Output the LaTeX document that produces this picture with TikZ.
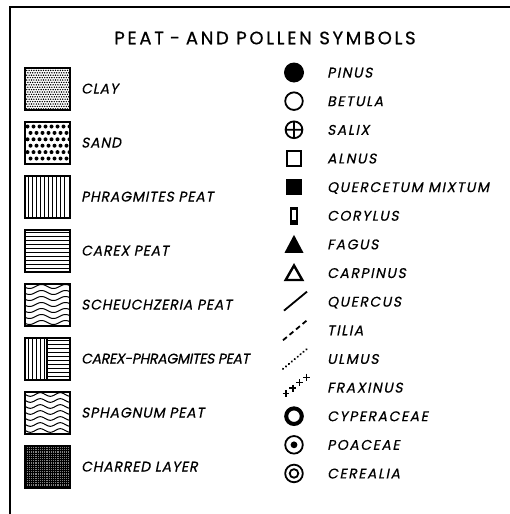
\documentclass[tikz,border=0pt]{standalone}
\usepackage{fontspec}
\setmainfont{Poppins}[LetterSpace=15,FakeBold=0.6]
\newfontfamily\labfont{Poppins}[FakeSlant=0.2,FakeBold=0.45,LetterSpace=11]
\newfontfamily\peatfont{Poppins}[FakeSlant=0.2,FakeBold=0.45,LetterSpace=6]
\newfontfamily\narrowfont{Poppins}[FakeSlant=0.2,FakeBold=0.45,LetterSpace=-2]
\usetikzlibrary{positioning}
\tikzset{
  swatch/.style={draw,line width=2pt,minimum width=45pt,minimum height=42pt,inner sep=0pt},
  lab/.style={font=\labfont\fontsize{14}{16}\selectfont,text height=10pt,text depth=0pt,inner sep=0pt,anchor=west},
  peatlab/.style={lab,font=\peatfont\fontsize{14}{16}\selectfont},
  % peat fills, drawn inside a 45x42 box
  pics/clay/.style={code={
    \clip (-22.5,-21) rectangle (22.5,21);
    \foreach \r in {0,...,17} \foreach \c in {0,...,19}
      \fill ({-22+\c*2.4+mod(\r,2)*1.2},{-20.5+\r*2.4}) circle (0.8);
  }},
  pics/sand/.style={code={
    \clip (-22.5,-21) rectangle (22.5,21);
    \foreach \r in {0,...,5} \foreach \c in {0,...,7}
      \fill ({-20+\c*6+mod(\r,2)*3},{-16+\r*6.4}) circle (2);
  }},
  pics/phrag/.style={code={
    \foreach \x in {-19,-15,...,19} \draw[line width=0.9pt] (\x,-21) -- (\x,21);
  }},
  pics/carex/.style={code={
    \foreach \y in {-18,-14,...,18} \draw[line width=0.9pt] (-22.5,\y) -- (22.5,\y);
  }},
  pics/scheu/.style={code={
    \clip (-22.5,-21) rectangle (22.5,21);
    \foreach \k in {0,...,6}
      \draw[line width=1pt] plot[variable=\t,domain=-23:23,samples=40,smooth] (\t,{-18+\k*6+2*sin(\t*15)});
  }},
  pics/carphrag/.style={code={
    \foreach \x in {-19,-15,...,-3} \draw[line width=0.9pt] (\x,-21) -- (\x,21);
    \draw[line width=1.2pt] (-0.5,-21) -- (-0.5,21);
    \foreach \y in {-18,-14,...,18} \draw[line width=0.9pt] (-0.5,\y) -- (22.5,\y);
  }},
  pics/sphag/.style={code={
    \clip (-22.5,-21) rectangle (22.5,21);
    \foreach \k in {0,...,6}
      \draw[line width=1pt] plot[variable=\t,domain=-23:23,samples=40,smooth] (\t,{-18+\k*6+1.8*sin(\t*18+40)});
  }},
  pics/charred/.style={code={
    \fill[black!50] (-22.5,-21) rectangle (22.5,21);
    \foreach \x in {-21.5,-19.3,...,22} \draw[line width=1pt] (\x,-21) -- (\x,21);
    \foreach \y in {-20,-17.8,...,21} \draw[line width=1pt] (-22.5,\y) -- (22.5,\y);
  }},
  % pollen marks
  pics/pinus/.style={code={\fill (0,0) circle (10);}},
  pics/betula/.style={code={\draw[line width=1.8pt] (0,0) circle (8.8);}},
  pics/salix/.style={code={\draw[line width=1.8pt] (0,0) circle (8.4) (-8.4,0) -- (8.4,0) (0,-8.4) -- (0,8.4);}},
  pics/alnus/.style={code={\draw[line width=1.8pt] (-7.3,-7.3) rectangle (7.3,7.3);}},
  pics/querc/.style={code={\fill (-8.2,-8.2) rectangle (8.2,8.2);}},
  pics/corylus/.style={code={
    \fill (-4.2,-9) rectangle (4.2,9);
    \fill[white] (-1.6,-5.5) rectangle (1.6,4.5);
  }},
  pics/fagus/.style={code={\fill (0,-9.5) -- (9.5,8.5) -- (-9.5,8.5) -- cycle;}},
  pics/carpinus/.style={code={\draw[line width=2.4pt,line join=miter] (0,-7.5) -- (8.3,7) -- (-8.3,7) -- cycle;}},
  pics/quercus/.style={code={\draw[line width=1.8pt] (-10,9) -- (13,-10);}},
  pics/tilia/.style={code={\draw[line width=1.8pt,dash pattern=on 5pt off 3.5pt] (-11,10) -- (13,-10);}},
  pics/ulmus/.style={code={\draw[line width=2.2pt,line cap=round,dash pattern=on 0.2pt off 3.6pt] (-11,10) -- (13,-10);}},
  pics/fraxinus/.style={code={
    \foreach \s in {0,1,2,3}
      \draw[line width=1.5pt,shift={(-8+\s*6.8,6-\s*5.4)}] (-3.4,0) -- (3.4,0) (0,-3.6) -- (0,3.6);
  }},
  pics/cyper/.style={code={\draw[line width=4pt] (0,0) circle (7.8);}},
  pics/poac/.style={code={\draw[line width=1.8pt] (0,0) circle (8.8); \fill (0,0) circle (3.4);}},
  pics/cereal/.style={code={\draw[line width=1.8pt] (0,0) circle (8.8) (0,0) circle (4.3);}},
}

\begin{document}
\begin{tikzpicture}[x=1pt,y=-1pt]
  \useasboundingbox (0,0) rectangle (510,514);
  \draw[line width=2.2pt] (10,514) -- (10,7) -- (510,7);
  \node[font=\fontsize{18}{20}\selectfont,inner sep=0pt] (title) at (265,38) {PEAT\,\,-\,\,AND POLLEN SYMBOLS};
  % peat column
  \foreach \p/\t [count=\i from 0] in {clay/CLAY,sand/SAND,phrag/PHRAGMITES PEAT,carex/CAREX PEAT,scheu/SCHEUCHZERIA PEAT,carphrag/{\narrowfont CAREX-PHRAGMITES PEAT},sphag/SPHAGNUM PEAT,charred/CHARRED LAYER}{
    \pic at (47.5,{88.5+54*\i}) {\p};
    \node[swatch] (s\i) at (47.5,{88.5+54*\i}) {};
    \node[peatlab,right=10pt of s\i] (l\i) {\t};
  }
  % pollen column
  \foreach \p/\t [count=\i from 0] in {pinus/PINUS,betula/BETULA,salix/SALIX,alnus/ALNUS,querc/QUERCETUM MIXTUM,corylus/CORYLUS,fagus/FAGUS,carpinus/CARPINUS,quercus/QUERCUS,tilia/TILIA,ulmus/ULMUS,fraxinus/FRAXINUS,cyper/CYPERACEAE,poac/POACEAE,cereal/CEREALIA}{
    \coordinate (m\i) at (294,{72.5+28.64*\i});
    \pic at (m\i) {\p};
    \node[lab] (n\i) at (327,{72.5+28.64*\i}) {\t};
  }
\end{tikzpicture}
\end{document}
